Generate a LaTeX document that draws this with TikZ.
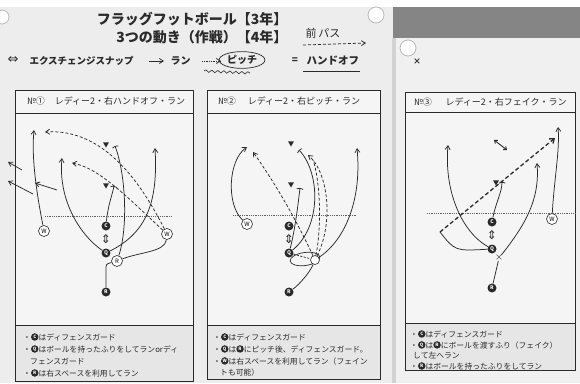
\documentclass[tikz,border=0pt]{standalone}
\usepackage{fontspec}
\setmainfont{Noto Sans CJK JP}
\newfontfamily\dejavu{DejaVu Sans}
\usetikzlibrary{arrows.meta,shapes.geometric,decorations.pathmorphing}
\definecolor{ink}{HTML}{2A2A2A}
\definecolor{bgpaper}{HTML}{EDEDED}
\definecolor{fieldbg}{HTML}{F5F5F5}
\definecolor{notebg}{HTML}{E6E6E6}
\definecolor{band}{HTML}{858585}
\newcommand{\bc}[1]{\tikz[baseline=-0.75ex]\node[circle,fill=ink,text=white,inner sep=0pt,minimum size=7.5pt,font=\fontsize{4.5}{4.5}\selectfont\bfseries]{#1};}
\newcommand{\fs}[1]{\fontsize{#1}{#1}\selectfont}
\begin{document}
\begin{tikzpicture}[x=1pt,y=-1pt,
  route/.style={draw=ink, line width=0.75pt, -{Straight Barb[length=4pt,width=5pt]}},
  droute/.style={route, dash pattern=on 3pt off 2pt},
  blockline/.style={draw=ink, line width=0.75pt, -{Parenthesis[length=2pt,width=8pt]}},
  plain/.style={draw=ink, line width=0.75pt},
  fplayer/.style={circle, fill=ink, text=white, inner sep=0pt, minimum size=9pt, font=\fs{5}\bfseries},
  oplayer/.style={circle, draw=ink, fill=white, line width=0.6pt, inner sep=0pt, minimum size=11pt, font=\fs{6}},
  defender/.style={regular polygon, regular polygon sides=3, shape border rotate=180, fill=ink, inner sep=0pt, minimum size=7pt},
  scrim/.style={draw=ink!75, densely dotted, line width=0.8pt},
  exch/.style={font=\dejavu\fs{12}, text=ink, inner sep=0pt},
  panel/.style={draw=ink, line width=0.8pt},
  hdr/.style={font=\fs{9}, text=ink},
  note/.style={font=\fs{7.8}, text=ink, anchor=west, inner sep=0pt},
  pin/.style={draw=gray!55, fill=white, line width=0.8pt}
]
\useasboundingbox (0,0) rectangle (580,383);
% background
\fill[bgpaper] (0,0) rectangle (580,383);
\fill[white] (0,0) rectangle (580,7);
\fill[band] (393,7) rectangle (580,38);
\fill[gray!35] (392,38) rectangle (396,383);
\fill[gray!12] (396,38) rectangle (580,383);
\draw[pin] (376,15) circle (8);
\draw[pin] (408,48) circle (8);
\draw[pin] (2,17) circle (7);

% title
\node[font=\fs{14}\bfseries, text=ink, anchor=east] (t1) at (291,19) {フラッグフットボール【3年】};
\node[font=\fs{14}\bfseries, text=ink, anchor=east] (t2) at (291,37) {3つの動き（作戦）【4年】};
\node[font=\fs{11}, text=ink] (mae) at (323,33) {前\,パス};
\coordinate (maeA) at (303,45); \coordinate (maeB) at (366,43);
\draw[droute] (maeA) -- (maeB);

% legend
\node[font=\dejavu\fs{13}, text=ink] (lg0) at (13,60) {⇔};
\node[font=\fs{9.5}\bfseries, text=ink, anchor=west] (lg1) at (26,61) {エクスチェンジスナップ};
\coordinate (lrA) at (149,61); \coordinate (lrB) at (164,61);
\draw[route] (lrA) -- (lrB);
\node[font=\fs{10}\bfseries, text=ink, anchor=west] (lg2) at (167,61) {ラン};
\coordinate (lpA) at (202,61); \coordinate (lpB) at (221,61);
\draw[route, densely dotted] (lpA) -- (lpB);
\node[font=\fs{10}\bfseries, text=ink, draw=ink, line width=0.7pt, ellipse, inner sep=1.2pt] (lg3) at (242,60) {ピッチ};
\coordinate (wvA) at (204,71); \coordinate (wvB) at (250,73);
\draw[ink, line width=0.6pt, decorate, decoration={snake, amplitude=1.2pt, segment length=6pt}] (wvA) -- (wvB);
\node[font=\fs{10}\bfseries, text=ink] (lg4) at (295,61) {=};
\node[font=\fs{10.5}\bfseries, text=ink, anchor=west] (lg5) at (303,61) {ハンドオフ};
\coordinate (ulA) at (303,71); \coordinate (ulB) at (360,71);
\draw[ink, line width=0.7pt] (ulA) -- (ulB);

% ---------- panel frames
\foreach \l/\t/\r/\h/\n/\b in {15/90/193/113/325/381, 207/90/380/113/325/379, 405/92/575/112/323/370}{
  \fill[fieldbg] (\l,\t) rectangle (\r,\b);
  \fill[notebg] (\l,\n) rectangle (\r,\b);
  \draw[panel] (\l,\t) rectangle (\r,\b);
  \draw[panel] (\l,\h) -- (\r,\h);
  \draw[panel] (\l,\n) -- (\r,\n);
}

% ---------- panel 1
\node[hdr] (h1a) at (36,101) {№①};
\node[hdr] (h1b) at (120,101) {レディー2・右ハンドオフ・ラン};
\coordinate (s1a) at (45,216); \coordinate (s1b) at (172,216);
\draw[scrim] (s1a) -- (s1b);
\node[defender] (D1a) at (106,144) {};
\node[defender] (D1b) at (106,185) {};
\node[fplayer] (C1) at (106,226) {C};
\node[fplayer] (Q1) at (106,253) {Q};
\node[oplayer] (R1) at (117,261) {R};
\node[fplayer] (B1) at (106,292) {R};
\node[oplayer] (W1) at (44,231) {W};
\node[oplayer] (Y1) at (167,234) {W};
\node[exch] (X1) at (106,239.5) {⇕};
\coordinate (e1a) at (34,130); \coordinate (e1b) at (62,158); \coordinate (e1c) at (155,148);
\coordinate (e1d) at (114,186); \coordinate (e1e) at (115,146); \coordinate (e1f) at (45,132);
\coordinate (e1g) at (72,163); \coordinate (k1) at (106,270);
\draw[route] (W1) .. controls (38,200) and (31,160) .. (e1a);
\draw[route] (Q1) .. controls (80,235) and (58,200) .. (e1b);
\draw[route] (Q1) .. controls (148,232) and (158,200) .. (e1c);
\draw[blockline] (C1) .. controls (108,205) and (112,196) .. (e1d);
\draw[blockline] (R1) .. controls (128,228) and (126,175) .. (e1e);
\draw[droute] (Y1) .. controls (142,185) and (105,128) .. (e1f);
\draw[droute] (Y1) .. controls (130,200) and (100,168) .. (e1g);
\draw[plain] (R1) .. controls (140,252) and (165,252) .. (Y1);
\draw[plain] (B1) -- (k1) .. controls (106,264) .. (R1);
% marks leaving the panel on the left
\coordinate (o1a) at (57,190); \coordinate (o1b) at (35,183);
\coordinate (o1c) at (33,194); \coordinate (o1d) at (8,181);
\coordinate (o1e) at (22,170); \coordinate (o1f) at (8,162);
\draw[route] (o1a) -- (o1b);
\draw[route] (o1c) -- (o1d);
\draw[route] (o1e) -- (o1f);
% notes
\node[note] (n1a) at (23,337) {・\bc{C}はディフェンスガード};
\node[note] (n1b) at (23,349) {・\bc{Q}はボールを持ったふりをしてランorディ};
\node[note] (n1c) at (30,361) {フェンスガード};
\node[note] (n1d) at (23,373) {・\bc{R}は右スペースを利用してラン};

% ---------- panel 2
\node[hdr] (h2a) at (227,101) {№②};
\node[hdr] (h2b) at (304,101) {レディー2・右ピッチ・ラン};
\coordinate (s2a) at (233,215); \coordinate (s2b) at (357,215);
\draw[scrim] (s2a) -- (s2b);
\node[defender] (D2a) at (291,143) {};
\node[defender] (D2b) at (291,184) {};
\node[fplayer] (C2) at (289,226) {C};
\node[fplayer] (Q2) at (289,253) {Q};
\node[draw=ink, line width=0.7pt, ellipse, minimum width=30pt, minimum height=13pt, rotate=8] (P2) at (305,259) {};
\node[oplayer, minimum size=9pt] (R2) at (315,260) {};
\node[fplayer] (B2) at (289,292) {R};
\node[oplayer] (W2) at (247,224) {W};
\node[exch] (X2) at (289,239.5) {⇕};
\coordinate (e2a) at (247,147); \coordinate (e2b) at (253,152); \coordinate (e2c) at (300,188);
\coordinate (e2d) at (299,150); \coordinate (e2e) at (308,155); \coordinate (e2f) at (357,148);
\coordinate (e2g) at (313,160);
\draw[route] (W2) .. controls (226,205) and (228,160) .. (e2a);
\draw[droute] (R2) .. controls (300,228) and (280,190) .. (e2b);
\draw[blockline] (Q2) .. controls (295,230) and (298,205) .. (e2c);
\draw[blockline] (Q2) .. controls (322,226) and (320,172) .. (e2d);
\draw[droute] (R2) .. controls (334,222) and (328,172) .. (e2e);
\draw[draw=ink, line width=0.75pt, dash pattern=on 3pt off 2pt] (R2) .. controls (322,225) and (320,180) .. (e2g);
\draw[route] (R2) .. controls (345,240) and (362,200) .. (e2f);
\draw[plain] (B2) .. controls (300,284) and (310,272) .. (R2);
\draw[draw=ink, line width=0.75pt, dash pattern=on 2pt off 1.5pt] (Q2) -- (R2);
\node[note] (n2a) at (213,337) {・\bc{C}はディフェンスガード};
\node[note] (n2b) at (213,349) {・\bc{Q}は\bc{R}にピッチ後、ディフェンスガード。};
\node[note] (n2c) at (213,361) {・\bc{W}は右スペースを利用してラン（フェイン};
\node[note] (n2d) at (220,373) {トも可能）};

% ---------- panel 3
\node[hdr] (h3a) at (423,102) {№③};
\node[hdr] (h3b) at (506,102) {レディー2・右フェイク・ラン};
\node[font=\fs{8}\bfseries, text=ink] (x3) at (417,62) {×};
\coordinate (s3a) at (427,213); \coordinate (s3b) at (575,213);
\draw[scrim] (s3a) -- (s3b);
\node[defender] (D3) at (496,182) {};
\node[fplayer] (C3) at (492,222) {C};
\node[fplayer] (Q3) at (492,249) {Q};
\node[font=\fs{8}, text=ink, inner sep=0pt] (X3) at (499,258) {×};
\node[fplayer] (B3) at (492,288) {R};
\node[oplayer] (W3) at (552,219) {W};
\node[exch] (XX3) at (492,235.5) {⇕};
\coordinate (e3a) at (448,145); \coordinate (e3b) at (537,163); \coordinate (e3c) at (558,127);
\coordinate (e3d) at (502,182); \coordinate (e3e) at (440,232); \coordinate (e3f) at (555,138);
\coordinate (m3a) at (494,140); \coordinate (m3b) at (507,150);
\draw[route] (Q3) .. controls (462,232) and (444,192) .. (e3a);
\draw[route] (X3) .. controls (525,225) and (540,200) .. (e3b);
\draw[route] (W3) .. controls (554,180) and (560,150) .. (e3c);
\draw[blockline] (C3) .. controls (496,202) and (502,192) .. (e3d);
\draw[plain] (Q3) .. controls (455,251) .. (e3e);
\draw[draw=ink, line width=1.3pt, dash pattern=on 4pt off 2.5pt, -{Straight Barb[length=4pt,width=6pt]}] (e3e) -- (e3f);
\draw[plain] (B3) -- (X3);
\draw[draw=ink, line width=0.9pt, {Straight Barb[length=2.5pt,width=4pt]}-{Straight Barb[length=2.5pt,width=4pt]}] (m3a) -- (m3b);
\node[note] (n3a) at (410,334) {・\bc{C}はディフェンスガード};
\node[note] (n3b) at (410,345) {・\bc{Q}は\bc{R}にボールを渡すふり（フェイク）};
\node[note] (n3c) at (413,355.5) {して左へラン};
\node[note] (n3d) at (410,366) {・\bc{R}はボールを持ったふりをしてラン};
\end{tikzpicture}
\end{document}
